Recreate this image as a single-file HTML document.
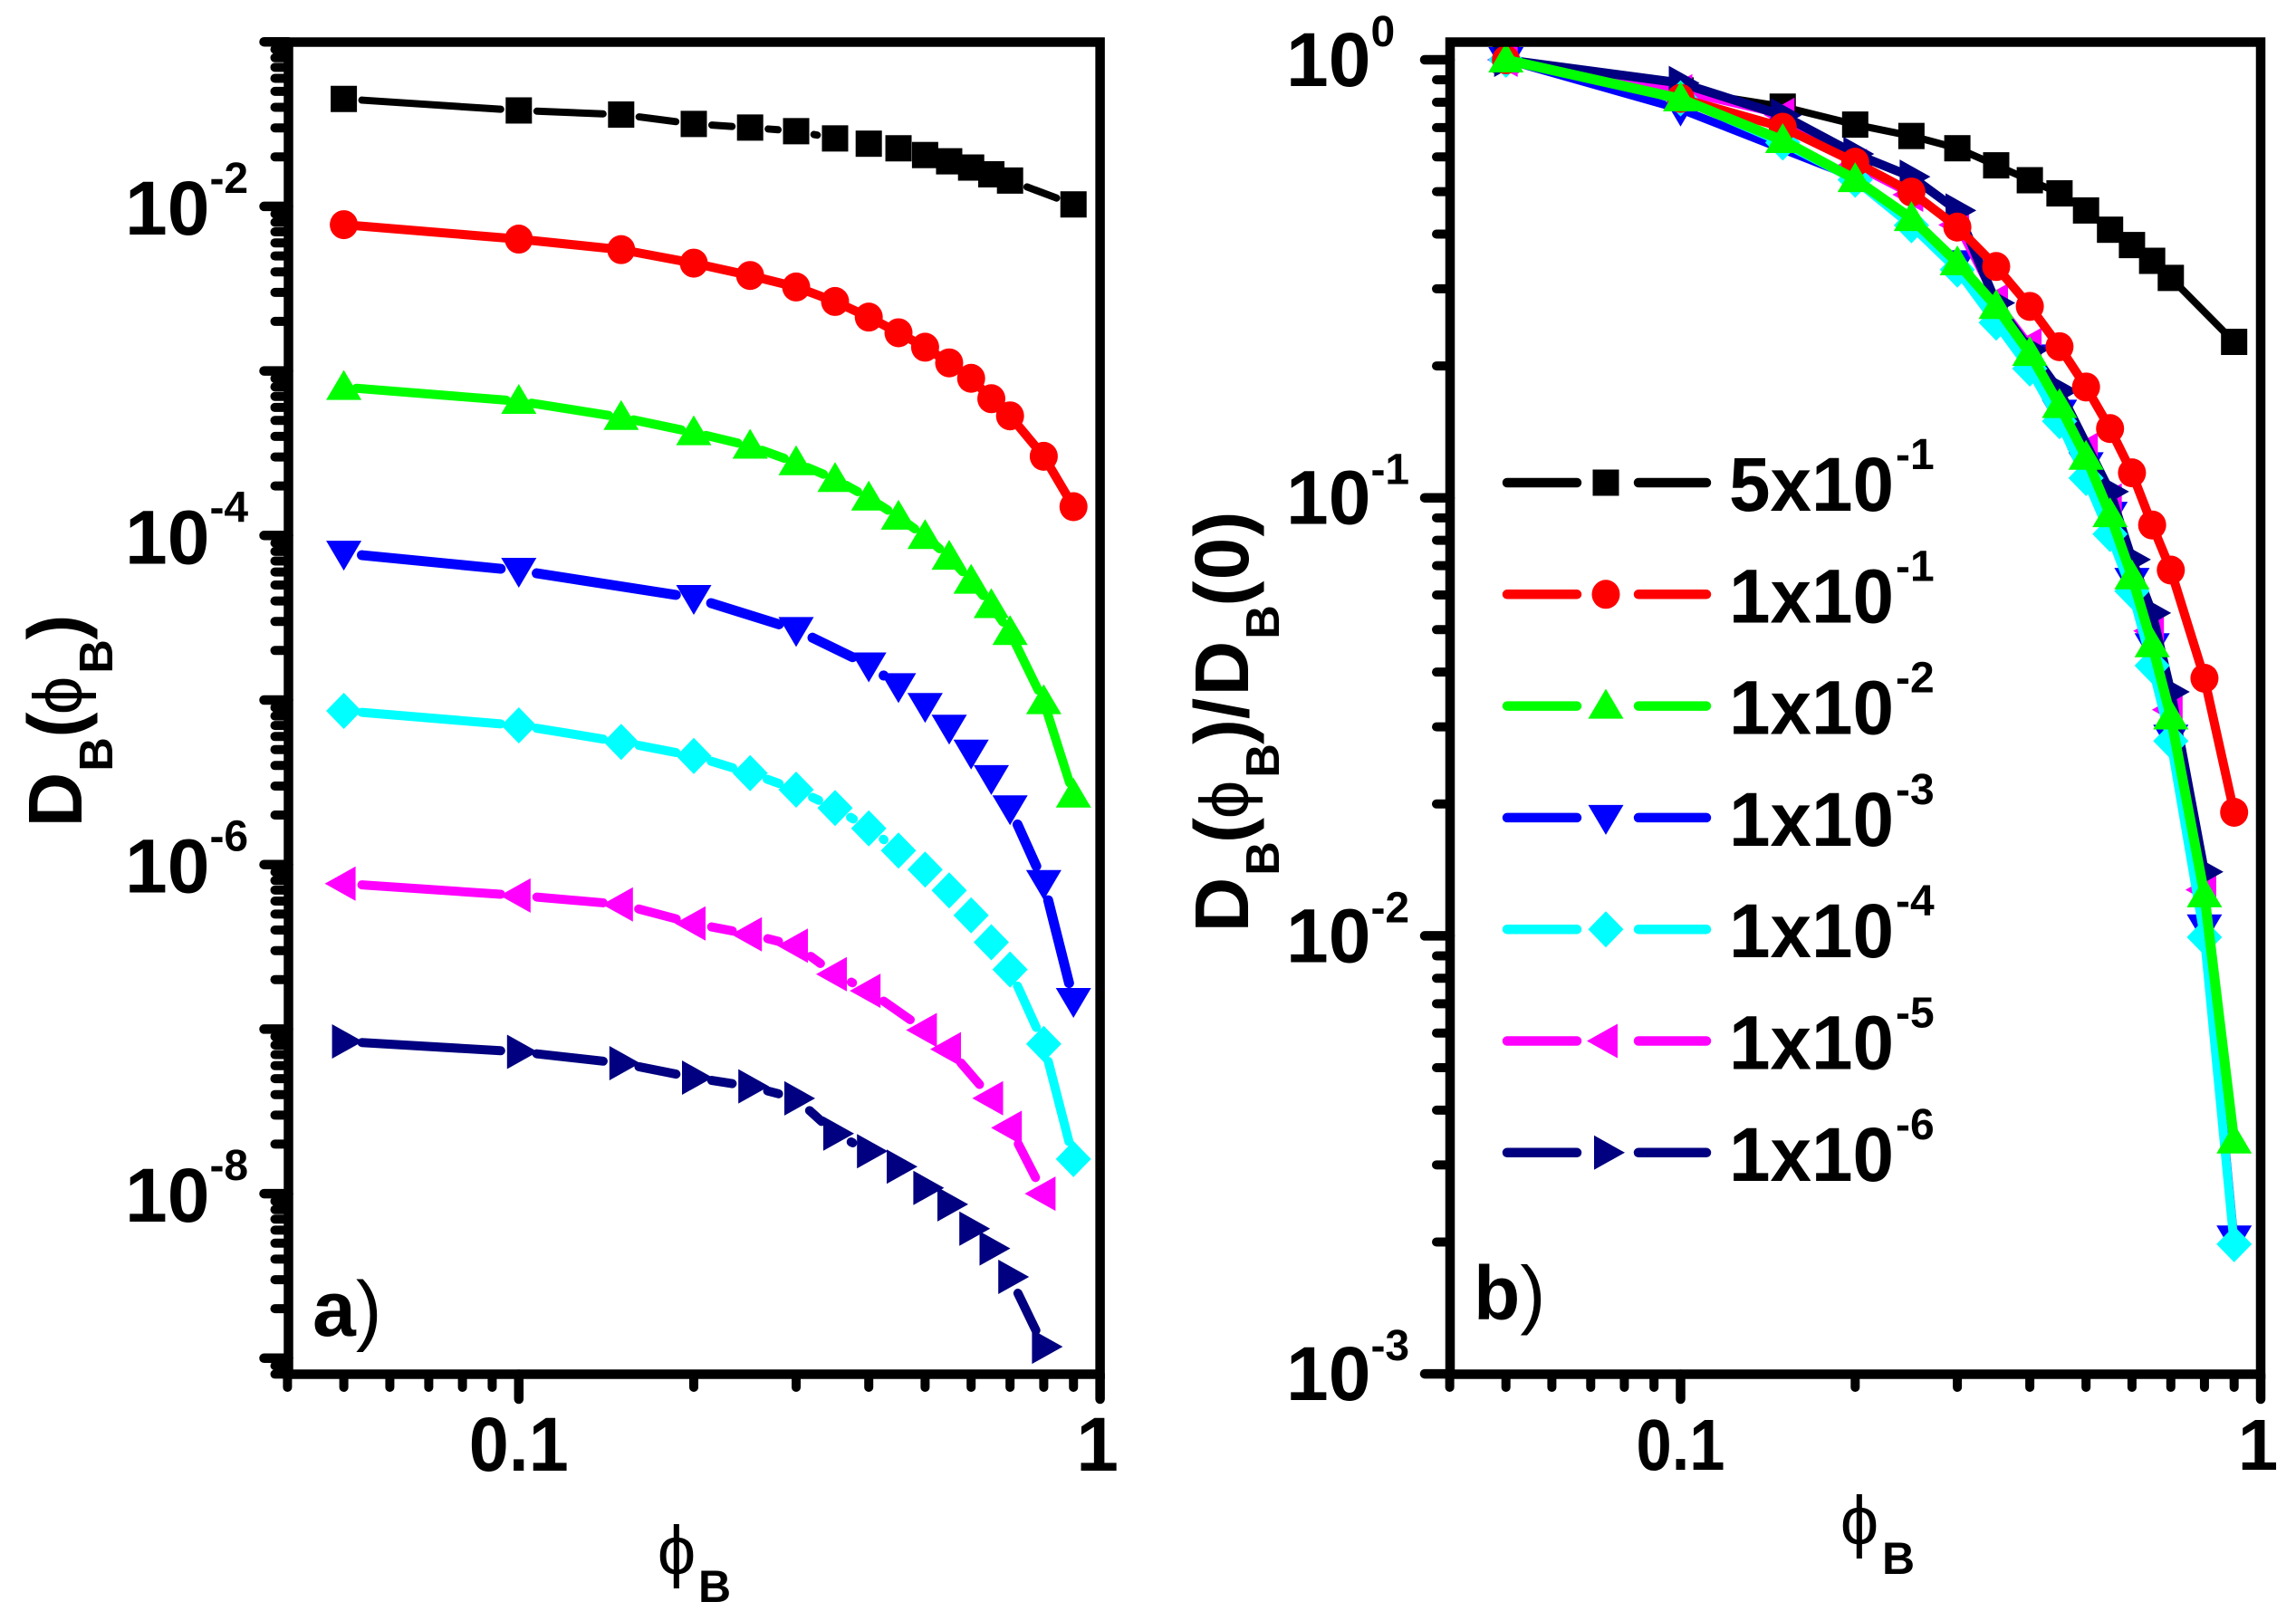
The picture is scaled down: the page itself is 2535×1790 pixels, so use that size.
<!DOCTYPE html>
<html lang="en">
<head>
<meta charset="utf-8">
<title>Diffusion coefficient vs volume fraction</title>
<style>
html,body{margin:0;padding:0;background:#fff;width:2535px;height:1790px;overflow:hidden}
svg{display:block}
text{font-family:"Liberation Sans",Arial,sans-serif;fill:#000}
</style>
</head>
<body>
<svg id="fig" xmlns="http://www.w3.org/2000/svg" width="2535" height="1790" viewBox="0 0 2535 1790">
<rect x="0" y="0" width="2535" height="1790" fill="#fff"/>
</svg>
<script>
// ---------- data ----------
const phiAll = [0.05,0.1,0.15,0.2,0.25,0.3,0.35,0.4,0.45,0.5,0.55,0.6,0.65,0.7,0.8,0.9];
const phiBlack = [0.05,0.1,0.15,0.2,0.25,0.3,0.35,0.4,0.45,0.5,0.55,0.6,0.65,0.7,0.9];
const phiBlue = [0.05,0.1,0.2,0.3,0.4,0.45,0.5,0.55,0.6,0.65,0.7,0.8,0.9];
const phiMagenta = [0.05,0.1,0.15,0.2,0.25,0.3,0.35,0.4,0.5,0.55,0.65,0.7,0.8];
const phiNavy = [0.05,0.1,0.15,0.2,0.25,0.3,0.35,0.4,0.45,0.5,0.55,0.6,0.65,0.7,0.8];

// panel a: log10 D_B(phi_B)
const aLog5e1 = [-1.347,-1.417,-1.442,-1.499,-1.521,-1.543,-1.587,-1.619,-1.647,-1.688,-1.726,-1.764,-1.805,-1.843,-1.988];
const aLog1e1 = [-2.111,-2.199,-2.263,-2.345,-2.420,-2.490,-2.578,-2.673,-2.768,-2.856,-2.951,-3.045,-3.169,-3.273,-3.519,-3.825];
const aLog1e2 = [-3.099,-3.184,-3.282,-3.374,-3.456,-3.557,-3.658,-3.771,-3.888,-4.005,-4.131,-4.277,-4.425,-4.589,-5.009,-5.577];
const aLog1e3 = [-4.109,-4.213,-4.378,-4.573,-4.788,-4.914,-5.034,-5.167,-5.318,-5.473,-5.656,-6.11,-6.827];
const aLog1e4 = [-5.066,-5.154,-5.255,-5.340,-5.444,-5.545,-5.656,-5.78,-5.915,-6.03,-6.157,-6.308,-6.472,-6.638,-7.09,-7.79];
const aLog1e5 = [-6.116,-6.188,-6.242,-6.358,-6.424,-6.493,-6.666,-6.767,-7.006,-7.122,-7.42,-7.6,-8.0];
const aLog1e6 = [-7.075,-7.138,-7.207,-7.295,-7.348,-7.421,-7.635,-7.742,-7.836,-7.965,-8.065,-8.213,-8.333,-8.506,-8.93];

// panel b: log10 D_B(phi_B)/D_B(0)
const bLog5e1 = [0,-0.07,-0.107,-0.148,-0.174,-0.202,-0.241,-0.275,-0.305,-0.344,-0.388,-0.423,-0.459,-0.498,-0.644];
const bLog1e1 = [0,-0.088,-0.154,-0.234,-0.302,-0.382,-0.472,-0.563,-0.655,-0.747,-0.842,-0.943,-1.062,-1.165,-1.412,-1.718];
const bLog1e2 = [0,-0.089,-0.184,-0.273,-0.362,-0.463,-0.563,-0.670,-0.789,-0.907,-1.038,-1.180,-1.335,-1.50,-1.906,-2.468];
const bLog1e3 = [0,-0.113,-0.269,-0.464,-0.679,-0.805,-0.925,-1.038,-1.189,-1.338,-1.547,-1.98,-2.69];
const bLog1e4 = [0,-0.088,-0.189,-0.274,-0.378,-0.479,-0.6,-0.705,-0.825,-0.955,-1.083,-1.213,-1.383,-1.555,-2.003,-2.704];
const bLog1e5 = [0,-0.072,-0.126,-0.242,-0.308,-0.377,-0.55,-0.651,-0.89,-1.006,-1.304,-1.484,-1.895];
const bLog1e6 = [0,-0.053,-0.127,-0.215,-0.267,-0.344,-0.555,-0.662,-0.756,-0.986,-1.141,-1.263,-1.443,-1.854];
const phiNavyB = [0.05,0.1,0.15,0.2,0.25,0.3,0.35,0.4,0.45,0.55,0.6,0.65,0.7,0.8];

const legendMantissa = ['5x10','1x10','1x10','1x10','1x10','1x10','1x10'];
const legendExponent = ['-1','-1','-2','-3','-4','-5','-6'];
const seriesNames = ['series-5e-1','series-1e-1','series-1e-2','series-1e-3','series-1e-4','series-1e-5','series-1e-6'];
const seriesColors = ['#000000','#ff0000','#00ff00','#0000ff','#00ffff','#ff00ff','#000080'];
const seriesShapes = ['square','circle','up','down','diamond','left','right'];

const aYMajorExp = [-1,-2,-3,-4,-5,-6,-7,-8,-9];
const aYLabelExp = [-2,-4,-6,-8];
const bYMajorExp = [0,-1,-2,-3];
const bYLabelExp = [0,-1,-2,-3];
const xMajorExp = [-1,0];
const xMinorMant = [2,3,4,5,6,7,8,9];

// ---------- axis functions ----------
function xA(v){ return 1214.6 + Math.log10(v)*641.8; }
function yA(l){ return 46.2 - (l+1)*181.7; }
function xB(v){ return 2496 + Math.log10(v)*640.5; }
function yB(l){ return 66 - l*483.7; }

// ---------- helpers ----------
const NS='http://www.w3.org/2000/svg';
const fig=document.getElementById('fig');
function mk(tag,attrs,parent){
  const e=document.createElementNS(NS,tag);
  for(const k in attrs){ e.setAttribute(k,attrs[k]); }
  (parent||fig).appendChild(e);
  return e;
}
function shapeEl(shape,cx,cy,color,parent){
  let e;
  if(shape==='square'){ e=mk('rect',{x:cx-14.5,y:cy-14.5,width:29,height:29,fill:color},parent); }
  else if(shape==='circle'){ e=mk('ellipse',{cx:cx,cy:cy,rx:15.5,ry:16,fill:color},parent); }
  else {
    let p;
    if(shape==='up'){ p=[[cx,cy-19],[cx+19.5,cy+14],[cx-19.5,cy+14]]; }
    else if(shape==='down'){ p=[[cx,cy+19],[cx+19.5,cy-14],[cx-19.5,cy-14]]; }
    else if(shape==='left'){ p=[[cx-21,cy],[cx+13,cy-19],[cx+13,cy+19]]; }
    else if(shape==='right'){ p=[[cx+21,cy],[cx-13,cy-19],[cx-13,cy+19]]; }
    else { p=[[cx,cy-20],[cx+19.5,cy],[cx,cy+20],[cx-19.5,cy]]; }
    e=mk('polygon',{points:p.map(q=>q.map(n=>n.toFixed(1)).join(',')).join(' '),fill:color},parent);
  }
  return e;
}
function drawSeries(group,xs,ls,fx,fy,color,shape,width,gap){
  const pts=xs.map((v,i)=>[fx(v),fy(ls[i])]);
  for(let i=0;i<pts.length-1;i++){
    const a=pts[i],b=pts[i+1];
    const dx=b[0]-a[0],dy=b[1]-a[1],len=Math.hypot(dx,dy);
    if(len<=2*gap) continue;
    const ux=dx/len,uy=dy/len;
    const seg=mk('line',{x1:a[0]+ux*gap,y1:a[1]+uy*gap,x2:b[0]-ux*gap,y2:b[1]-uy*gap,stroke:color,'stroke-width':width,'stroke-linecap':'round'},group);
    
    
  }
  pts.forEach(p=>{
    const m=shapeEl(shape,p[0],p[1],color,group);
    
    
  });
}
function txt(x,y,s,size,weight,parent,extra){
  const t=mk('text',Object.assign({x:x,y:y,'font-size':size,'font-weight':weight},extra||{}),parent);
  t.textContent=s;
  return t;
}

// ---------- panel frames and ticks ----------
function drawAxes(name,L,R,T,B,fx,fy,yMaj,yMajLen,yMinLen){
  const g=mk('g',{},fig);
  
  
  yMaj.forEach(ex=>{
    const y=fy(ex);
    const t=mk('line',{x1:L,y1:y,x2:L-yMajLen,y2:y,stroke:'#000','stroke-width':10.5,'stroke-linecap':'round'},g);
    
    
    xMinorMant.forEach(m=>{
      const yy=fy(ex+Math.log10(m)-1);
      if(yy>B+1||yy<T-1) return;
      const tm=mk('line',{x1:L,y1:yy,x2:L-yMinLen,y2:yy,stroke:'#000','stroke-width':10,'stroke-linecap':'round'},g);
      
      
    });
  });
  xMajorExp.forEach(ex=>{
    const x=fx(Math.pow(10,ex));
    const t=mk('line',{x1:x,y1:B,x2:x,y2:1545,stroke:'#000','stroke-width':10.5,'stroke-linecap':'round'},g);
    
    
  });
  [-2,-1].forEach(ex=>{
    xMinorMant.forEach(m=>{
      const v=m*Math.pow(10,ex);
      if(v<0.0399) return;
      const x=fx(v);
      const t=mk('line',{x1:x,y1:B,x2:x,y2:1532,stroke:'#000','stroke-width':10,'stroke-linecap':'round'},g);
      
      
    });
  });
}
function drawFrame(name,L,R,T,B){
  const frame=mk('rect',{x:L,y:T,width:R-L,height:B-T,fill:'none',stroke:'#000','stroke-width':10.5});
  
  
}
function powLabel(x,baseY,ex,name,off){
  const t=mk('text',{x:x,y:baseY,'font-size':84,'font-weight':'bold'});
  
  
  t.appendChild(document.createTextNode('10'));
  const s=mk('tspan',{'font-size':48,dy:off},t);
  s.textContent=String(ex);
  return t;
}
function glyphRot(x,y,s,size,weight,name,extra){
  const t=mk('text',Object.assign({x:0,y:0,'font-size':size,'font-weight':weight,'text-anchor':'middle',transform:'translate('+x+' '+y+') rotate(-90)'},extra||{}));
  t.textContent=s;
  
  
  return t;
}
const PHI_FONT={'font-family':'"DejaVu Sans","Liberation Sans",sans-serif'};

// ---------- panel a ----------
drawAxes('panel-a',318.5,1214.6,46.5,1517.5,xA,yA,aYMajorExp,27,15);
aYLabelExp.forEach(ex=>{
  powLabel(138,yA(ex)+31,ex,'panel-a-y-tick-label',-46);
});
const a01=txt(xA(0.1),1624,'0.1',84,'bold',fig,{'text-anchor':'middle',textLength:110,lengthAdjust:'spacingAndGlyphs'});


const a1=txt(xA(1)-3,1624,'1',84,'bold',fig,{'text-anchor':'middle'});



glyphRot(90,883,'D',84,'bold','panel-a-y-title-d');
glyphRot(124,833,'B',52,'bold','panel-a-y-title-sub');
glyphRot(90,800.5,'(',84,'bold','panel-a-y-title-open');
glyphRot(90,768,'\u03D5',76,'normal','panel-a-y-title-phi',PHI_FONT);
glyphRot(124,725,'B',52,'bold','panel-a-y-title-sub');
glyphRot(90,692.5,')',84,'bold','panel-a-y-title-close');

const axPhi=txt(747,1738,'\u03D5',76,'normal',fig,Object.assign({'text-anchor':'middle'},PHI_FONT));


const axB=txt(771,1769,'B',50,'bold',fig);



const aLab=mk('text',{x:345,y:1475,'font-size':86,'font-weight':'bold'});


aLab.appendChild(document.createTextNode('a'));
const aParen=mk('tspan',{'font-weight':'normal'},aLab);
aParen.textContent=')';

const aGroup=mk('g',{},fig);


const aX=[phiBlack,phiAll,phiAll,phiBlue,phiAll,phiMagenta,phiNavy];
const aY=[aLog5e1,aLog1e1,aLog1e2,aLog1e3,aLog1e4,aLog1e5,aLog1e6];
const aW=[8,10,10,11,10,10,10];
const aGap=[20,14,14,20,20,20,20];
aX.forEach((xs,i)=>{
  const g=mk('g',{},aGroup);
  
  
  drawSeries(g,xs,aY[i],xA,yA,seriesColors[i],seriesShapes[i],aW[i],aGap[i]);
});
drawFrame('panel-a',318.5,1214.6,46.5,1517.5);

// ---------- panel b ----------
drawAxes('panel-b',1601,2496,46.5,1517.5,xB,yB,bYMajorExp,28,15);
bYLabelExp.forEach(ex=>{
  powLabel(1420,yB(ex)+29,ex,'panel-b-y-tick-label',-44);
});
const b01=txt(xB(0.1),1623,'0.1',80,'bold',fig,{'text-anchor':'middle',textLength:98,lengthAdjust:'spacingAndGlyphs'});


const b1=txt(xB(1)-3,1623,'1',80,'bold',fig,{'text-anchor':'middle'});



glyphRot(1378,999,'D',84,'bold','panel-b-y-title-d');
glyphRot(1412,948,'B',52,'bold','panel-b-y-title-sub');
glyphRot(1378,917,'(',84,'bold','panel-b-y-title-open');
glyphRot(1378,883,'\u03D5',76,'normal','panel-b-y-title-phi',PHI_FONT);
glyphRot(1412,840,'B',52,'bold','panel-b-y-title-sub');
glyphRot(1378,808,')',84,'bold','panel-b-y-title-close');
glyphRot(1378,782.5,'/',84,'bold','panel-b-y-title-slash');
glyphRot(1378,738,'D',84,'bold','panel-b-y-title-d');
glyphRot(1412,687,'B',52,'bold','panel-b-y-title-sub');
glyphRot(1378,655.5,'(',84,'bold','panel-b-y-title-open');
glyphRot(1378,617,'0',84,'bold','panel-b-y-title-zero');
glyphRot(1378,578.5,')',84,'bold','panel-b-y-title-close');

const bxPhi=txt(2053,1705,'\u03D5',76,'normal',fig,Object.assign({'text-anchor':'middle'},PHI_FONT));


const bxB=txt(2078,1738,'B',50,'bold',fig);



const bLab=mk('text',{x:1627,y:1457,'font-size':84,'font-weight':'bold'});


bLab.appendChild(document.createTextNode('b'));
const bParen=mk('tspan',{'font-weight':'normal'},bLab);
bParen.textContent=')';

const bGroup=mk('g',{},fig);


const bX=[phiBlack,phiAll,phiAll,phiBlue,phiAll,phiMagenta,phiNavyB];
const bY=[bLog5e1,bLog1e1,bLog1e2,bLog1e3,bLog1e4,bLog1e5,bLog1e6];
const bW=[8,10,11,9,10,8,10];
const bOrder=[0,3,5,6,4,1,2];
bOrder.forEach(i=>{
  const g=mk('g',{},bGroup);
  
  
  drawSeries(g,bX[i],bY[i],xB,yB,seriesColors[i],seriesShapes[i],bW[i],0);
});
drawFrame('panel-b',1601,2496,46.5,1517.5);

// ---------- legend ----------
const legend=mk('g',{},fig);


legendMantissa.forEach((m,i)=>{
  const y=533+i*123.3;
  const g=mk('g',{},legend);
  
  
  const l1=mk('line',{x1:1664,y1:y,x2:1741,y2:y,stroke:seriesColors[i],'stroke-width':10.5,'stroke-linecap':'round'},g);
  
  
  const l2=mk('line',{x1:1809,y1:y,x2:1884,y2:y,stroke:seriesColors[i],'stroke-width':10.5,'stroke-linecap':'round'},g);
  
  
  const mark=shapeEl(seriesShapes[i],1773,y,seriesColors[i],g);
  
  
  const t=mk('text',{x:1909,y:y+31,'font-size':84,'font-weight':'bold',textLength:182,lengthAdjust:'spacingAndGlyphs'},g);
  t.textContent=m;
  
  
  const s=mk('text',{x:2093,y:y-15,'font-size':48,'font-weight':'bold'},g);
  s.textContent=legendExponent[i];
  
  
});
</script>
</body>
</html>
